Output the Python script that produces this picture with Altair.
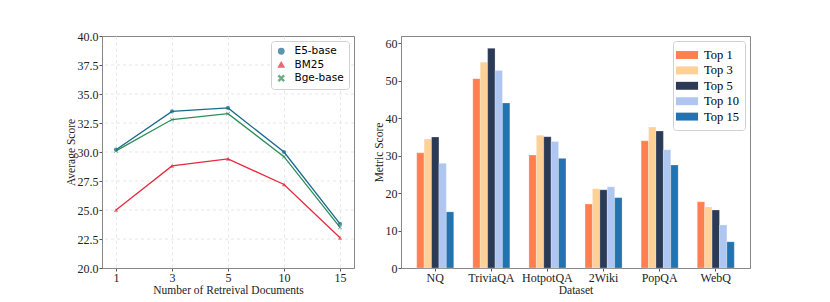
import altair as alt
import pandas as pd

# ---- left panel data ----
docs = ["1", "3", "5", "10", "15"]
retrievers = ["E5-base", "BM25", "Bge-base"]
e5_base = [30.2, 33.5, 33.8, 30.0, 23.8]
bm25 = [25.0, 28.8, 29.4, 27.2, 22.6]
bge_base = [30.1, 32.8, 33.3, 29.6, 23.5]
line_colors = ["#17698d", "#e8283c", "#2e8b57"]
y_ticks_left = [20, 22.5, 25, 27.5, 30, 32.5, 35, 37.5, 40]
y_grid_left = [22.5, 25, 27.5, 30, 32.5, 35, 37.5]

# ---- right panel data ----
datasets = ["NQ", "TriviaQA", "HotpotQA", "2Wiki", "PopQA", "WebQ"]
tops = ["Top 1", "Top 3", "Top 5", "Top 10", "Top 15"]
top1 = [30.8, 50.6, 30.2, 17.1, 34.0, 17.7]
top3 = [34.5, 55.0, 35.5, 21.2, 37.7, 16.3]
top5 = [35.0, 58.7, 35.1, 20.9, 36.6, 15.5]
top10 = [28.0, 52.8, 33.8, 21.7, 31.6, 11.5]
top15 = [15.0, 44.1, 29.3, 18.8, 27.5, 7.0]
bar_colors = ["#ff7f50", "#ffd197", "#2b3a55", "#aec6f0", "#2273b0"]

rows = []
for name, vals in zip(retrievers, [e5_base, bm25, bge_base]):
    for d, v in zip(docs, vals):
        rows.append({"docs": d, "retriever": name, "score": v})
line_df = pd.DataFrame(rows)
grid_df = pd.DataFrame({"score": y_grid_left})

rows = []
for t, vals in zip(tops, [top1, top3, top5, top10, top15]):
    for ds, v in zip(datasets, vals):
        rows.append({"dataset": ds, "top": t, "value": v})
bar_df = pd.DataFrame(rows)

serif = "Liberation Serif"
sans = "DejaVu Sans"

x_shape = "M-1,-0.75L-0.75,-1L0,-0.25L0.75,-1L1,-0.75L0.25,0L1,0.75L0.75,1L0,0.25L-0.75,1L-1,0.75L-0.25,0Z"
color_scale = alt.Scale(domain=retrievers, range=line_colors)
shape_scale = alt.Scale(domain=retrievers, range=["circle", "triangle-up", x_shape])
y_scale_left = alt.Scale(domain=[20, 40], nice=False, zero=False)

left_legend = alt.Legend(title=None, orient="top-right", offset=5,
                         labelFont=sans, labelFontSize=10.5, labelOffset=8,
                         fillColor="white", strokeColor="#d0d0d0",
                         cornerRadius=3, padding=5, rowPadding=1.5,
                         symbolSize=28)

x_left = alt.X("docs:O", sort=docs, title="Number of Retreival Documents",
               scale=alt.Scale(type="point", padding=0.25),
               axis=alt.Axis(labelAngle=0, grid=True, gridDash=[3, 3],
                             gridColor="#e6e6e6"))
y_left = alt.Y("score:Q", title="Average Score", scale=y_scale_left,
               axis=alt.Axis(values=y_ticks_left, format=".1f", grid=False))

grid = alt.Chart(grid_df).mark_rule(color="#e6e6e6", strokeDash=[3, 3], strokeWidth=1).encode(
    y=y_left
)
lines = alt.Chart(line_df).mark_line(strokeWidth=1.3).encode(
    x=x_left, y=y_left,
    color=alt.Color("retriever:N", scale=color_scale, sort=retrievers, legend=left_legend),
)
points = alt.Chart(line_df).mark_point(filled=True, size=18).encode(
    x=x_left, y=y_left,
    color=alt.Color("retriever:N", scale=color_scale, sort=retrievers, legend=left_legend),
    shape=alt.Shape("retriever:N", scale=shape_scale, sort=retrievers, legend=left_legend),
)
left = alt.layer(grid, lines, points).properties(width=252, height=232)

bars = alt.Chart(bar_df).mark_bar(stroke="white", strokeWidth=0.4, strokeOpacity=0.6).encode(
    x=alt.X("dataset:N", sort=datasets, title="Dataset",
            scale=alt.Scale(paddingInner=0.34, paddingOuter=0.28),
            axis=alt.Axis(labelAngle=0)),
    xOffset=alt.XOffset("top:N", sort=tops, scale=alt.Scale(paddingInner=0)),
    y=alt.Y("value:Q", title="Metric Score",
            scale=alt.Scale(domain=[0, 62], nice=False),
            axis=alt.Axis(values=[0, 10, 20, 30, 40, 50, 60], grid=False)),
    color=alt.Color("top:N", sort=tops, scale=alt.Scale(domain=tops, range=bar_colors),
                    legend=alt.Legend(title=None, orient="top-right", offset=5,
                                      labelFont=serif, labelFontSize=12.5, labelOffset=9,
                                      fillColor="white", strokeColor="#d0d0d0",
                                      cornerRadius=3, padding=6, rowPadding=0.4,
                                      symbolType="M-1.4,-0.5H1.4V0.5H-1.4Z",
                                      symbolSize=250, symbolStrokeWidth=0)),
).properties(width=349, height=232)

chart = alt.hconcat(left, bars, spacing=17).resolve_scale(
    color="independent", shape="independent"
).resolve_legend(color="independent", shape="independent").properties(
    padding={"left": 56, "top": 21, "right": 5, "bottom": 5}
).configure(font=serif).configure_view(
    stroke="#888888", strokeWidth=1
).configure_axis(
    labelFont=serif, titleFont=serif, labelFontSize=12, titleFontSize=11.5,
    titleFontWeight="normal", labelColor="#222", titleColor="#222",
    domainColor="#888888", tickColor="#555", tickSize=3, labelPadding=1,
    titlePadding=1
)

chart.save("out.html", embed_options={"renderer": "svg", "actions": False})
